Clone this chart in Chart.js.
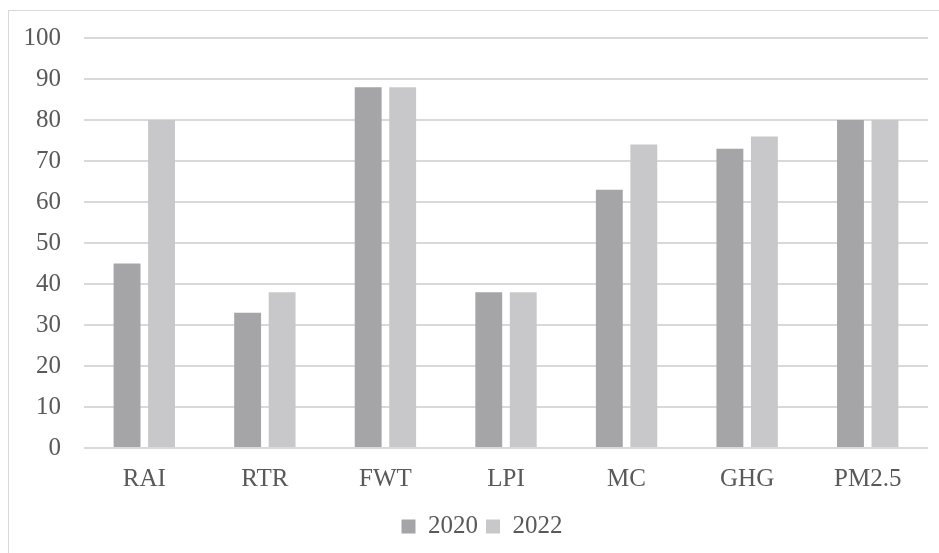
<!DOCTYPE html>
<html>
<head>
<meta charset="utf-8">
<script src="https://cdn.jsdelivr.net/npm/chart.js@4/dist/chart.umd.min.js"></script>
<style>
  html, body { margin: 0; padding: 0; background: #ffffff; }
  #wrap { position: relative; width: 939px; height: 553px; overflow: hidden; }
  #frame { position: absolute; left: 8px; top: 10px; width: 1000px; height: 1000px; border: 1px solid #d9d9d9; box-sizing: border-box; }
  canvas { position: absolute; left: 0; top: 0; }
</style>
</head>
<body>
<div id="wrap">
  <div id="frame"></div>
  <canvas id="c" width="939" height="553"></canvas>
</div>
<script>
const categories = ['RAI', 'RTR', 'FWT', 'LPI', 'MC', 'GHG', 'PM2.5'];
const values2020 = [45, 33, 88, 38, 63, 73, 80];
const values2022 = [80, 38, 88, 38, 74, 76, 80];
const seriesNames = ['2020', '2022'];

const textColor = '#595959';
const fontFamily = '"Liberation Serif", "Times New Roman", serif';

const legendShift = {
  id: 'legendShift',
  afterLayout(chart) {
    if (chart.legend) { chart.legend.left += 18; chart.legend.right += 18; }
  }
};

new Chart(document.getElementById('c'), {
  type: 'bar',
  data: {
    labels: categories,
    datasets: [
      { label: seriesNames[0], data: values2020, backgroundColor: '#a5a5a8', borderWidth: 0 },
      { label: seriesNames[1], data: values2022, backgroundColor: '#c8c8ca', borderWidth: 0 }
    ]
  },
  plugins: [legendShift],
  options: {
    responsive: false,
    animation: false,
    maintainAspectRatio: false,
    layout: { padding: { left: 0, right: 11, top: 31, bottom: 4 } },
    datasets: { bar: { categoryPercentage: 0.572, barPercentage: 0.78 } },
    plugins: {
      tooltip: { enabled: false },
      legend: {
        position: 'bottom',
        labels: {
          color: textColor,
          font: { family: fontFamily, size: 25 },
          boxWidth: 14,
          boxHeight: 14,
          padding: 8
        }
      }
    },
    scales: {
      x: {
        grid: { display: false, drawTicks: false },
        border: { display: false },
        ticks: { color: textColor, font: { family: fontFamily, size: 25 }, padding: 16 },
        afterFit: (s) => { s.height = 58; }
      },
      y: {
        min: 0, max: 100,
        grid: { color: '#d9d9d9', lineWidth: 2, drawTicks: false },
        border: { display: false },
        ticks: { stepSize: 10, color: textColor, font: { family: fontFamily, size: 25 }, padding: 23 },
        afterFit: (s) => { s.width = 84; }
      }
    }
  }
});
</script>
</body>
</html>
